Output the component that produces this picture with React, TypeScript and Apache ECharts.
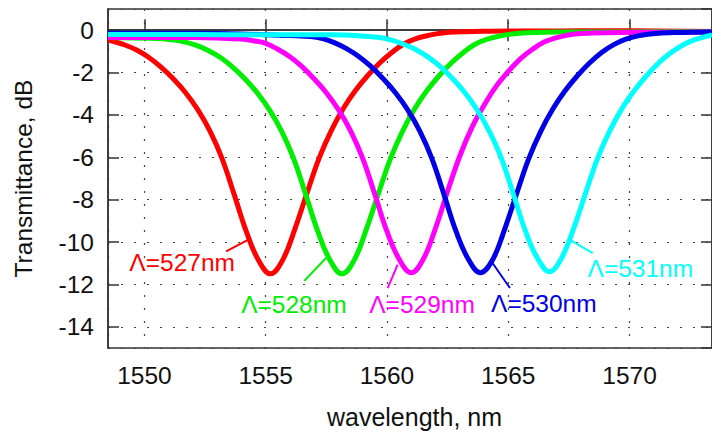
import React, { useEffect, useRef } from "react";
import * as echarts from "echarts";

// Transmittance (dB) vs wavelength (nm) for each grating period Λ
const red527: [number, number][] = [
  [1548.5, -0.45], [1549.2, -0.7], [1549.7, -0.95], [1550.2, -1.3], [1550.7, -1.75],
  [1551.2, -2.3], [1551.7, -2.95], [1552.2, -3.75], [1552.7, -4.75], [1553.2, -6.05],
  [1553.7, -7.75], [1554.2, -9.5], [1554.7, -10.85], [1555.2, -11.5], [1555.7, -10.85],
  [1556.2, -9.4], [1556.7, -7.7], [1557.2, -6.05], [1557.7, -4.75], [1558.2, -3.7],
  [1558.7, -2.85], [1559.2, -2.15], [1559.7, -1.55], [1560.2, -1.05], [1560.7, -0.65],
  [1561.2, -0.4], [1561.7, -0.25], [1562.2, -0.14], [1563.2, -0.07], [1564.2, -0.05],
  [1566, -0.04], [1568, -0.03], [1570, -0.03], [1573.4, -0.06],
];
const green528: [number, number][] = [
  [1548.5, -0.35], [1549.15, -0.36], [1550.15, -0.38], [1551.15, -0.45], [1551.65, -0.55],
  [1552.15, -0.72], [1552.65, -0.97], [1553.15, -1.3], [1553.65, -1.75], [1554.15, -2.3],
  [1554.65, -2.95], [1555.15, -3.75], [1555.65, -4.75], [1556.15, -6.05], [1556.65, -7.75],
  [1557.15, -9.5], [1557.65, -10.85], [1558.15, -11.5], [1558.65, -10.85], [1559.15, -9.4],
  [1559.65, -7.7], [1560.15, -6.05], [1560.65, -4.75], [1561.15, -3.7], [1561.65, -2.85],
  [1562.15, -2.15], [1562.65, -1.55], [1563.15, -1.05], [1563.65, -0.65], [1564.15, -0.42],
  [1564.65, -0.28], [1565.15, -0.18], [1566.15, -0.11], [1567.15, -0.09], [1570, -0.08],
  [1573.4, -0.07],
];
const magenta529: [number, number][] = [
  [1548.5, -0.35], [1552, -0.35], [1553, -0.37], [1554, -0.42], [1554.5, -0.5],
  [1555, -0.62], [1555.5, -0.9], [1556, -1.25], [1556.5, -1.72], [1557, -2.3],
  [1557.5, -2.95], [1558, -3.75], [1558.5, -4.75], [1559, -6.05], [1559.5, -7.75],
  [1560, -9.5], [1560.5, -10.8], [1561, -11.45], [1561.5, -10.8], [1562, -9.35],
  [1562.5, -7.6], [1563, -5.95], [1563.5, -4.6], [1564, -3.55], [1564.5, -2.65],
  [1565, -1.95], [1565.5, -1.35], [1566, -0.9], [1566.5, -0.55], [1567, -0.35],
  [1567.5, -0.22], [1568, -0.16], [1569, -0.12], [1571, -0.1], [1573.4, -0.09],
];
const blue530: [number, number][] = [
  [1548.5, -0.14], [1552, -0.15], [1554, -0.18], [1555.5, -0.24], [1556.85, -0.3],
  [1557.35, -0.4], [1557.85, -0.6], [1558.35, -0.88], [1558.85, -1.25], [1559.35, -1.72],
  [1559.85, -2.3], [1560.35, -2.95], [1560.85, -3.75], [1561.35, -4.75], [1561.85, -6.05],
  [1562.35, -7.75], [1562.85, -9.5], [1563.35, -10.8], [1563.85, -11.45], [1564.35, -10.85],
  [1564.85, -9.4], [1565.35, -7.7], [1565.85, -6.05], [1566.35, -4.75], [1566.85, -3.7],
  [1567.35, -2.85], [1567.85, -2.15], [1568.35, -1.55], [1568.85, -1.05], [1569.35, -0.68],
  [1569.85, -0.42], [1570.35, -0.27], [1570.85, -0.18], [1571.85, -0.11], [1573.4, -0.08],
];
const cyan531: [number, number][] = [
  [1548.5, -0.2], [1552, -0.2], [1555, -0.22], [1557.7, -0.22], [1558.7, -0.25],
  [1559.7, -0.35], [1560.2, -0.47], [1560.7, -0.67], [1561.2, -0.92], [1561.7, -1.27],
  [1562.2, -1.72], [1562.7, -2.28], [1563.2, -2.93], [1563.7, -3.73], [1564.2, -4.73],
  [1564.7, -6.0], [1565.2, -7.7], [1565.7, -9.45], [1566.2, -10.75], [1566.7, -11.4],
  [1567.2, -10.75], [1567.7, -9.35], [1568.2, -7.65], [1568.7, -6.0], [1569.2, -4.72],
  [1569.7, -3.68], [1570.2, -2.85], [1570.7, -2.15], [1571.2, -1.55], [1571.7, -1.07],
  [1572.2, -0.7], [1572.7, -0.45], [1573.4, -0.22],
];

const seriesNames = ["Λ=527nm", "Λ=528nm", "Λ=529nm", "Λ=530nm", "Λ=531nm"];
const seriesData = [red527, green528, magenta529, blue530, cyan531];
const seriesColors = ["#ff0000", "#00ee00", "#ff00ff", "#0000e6", "#00ffff"];

// annotation text anchor (left edge, middle) and leader line ends, in data units
const labelAnchors: [number, number][] = [
  [1549.38, -10.98], [1553.99, -12.96], [1559.27, -12.96], [1564.29, -12.91], [1568.27, -11.23],
];
const leaderLines: [[number, number], [number, number]][] = [
  [[1553.37, -10.44], [1554.33, -9.86]],
  [[1556.59, -11.83], [1557.49, -10.75]],
  [[1560.03, -12.17], [1560.44, -11.07]],
  [[1564.35, -10.99], [1565.07, -12.17]],
  [[1567.58, -9.92], [1568.48, -10.52]],
];

const xMin = 1548.5;
const xMax = 1573.4;
const yMin = -15;
const yMax = 1;

const FONT = "'Liberation Sans', Arial, sans-serif";
const AXIS_COLOR = "#333";
const TEXT_COLOR = "#111";

export default function App() {
  const ref = useRef<HTMLDivElement>(null);
  useEffect(() => {
    if (!ref.current) return;
    const chart = echarts.init(ref.current, undefined, { renderer: "svg" });
    const splitLine = {
      show: true,
      lineStyle: { color: "#444", width: 1.2, type: [2, 11] as any },
    };
    const tick = { show: true, inside: true, length: 11, lineStyle: { color: AXIS_COLOR, width: 1.5 } };
    const axLine = { show: true, lineStyle: { color: AXIS_COLOR, width: 1.5 } };
    chart.setOption({
      animation: false,
      backgroundColor: "#fff",
      textStyle: { fontFamily: FONT },
      grid: {
        left: 108,
        right: 0,
        top: 9,
        bottom: 86,
        show: true,
        borderColor: AXIS_COLOR,
        borderWidth: 1.5,
        containLabel: false,
      },
      xAxis: [
        {
          type: "value",
          min: xMin,
          max: xMax,
          splitNumber: 5,
          minInterval: 5,
          maxInterval: 5,
          position: "bottom",
          axisLine: axLine,
          axisTick: tick,
          splitLine,
          axisLabel: {
            fontSize: 24.5,
            fontFamily: FONT,
            color: TEXT_COLOR,
            margin: 15,
            showMinLabel: false,
            showMaxLabel: false,
            formatter: (v: number) => (Math.abs(v % 5) < 1e-6 ? String(v) : ""),
          },
          name: "wavelength, nm",
          nameLocation: "middle",
          nameGap: 56,
          nameTextStyle: { fontSize: 25, fontFamily: FONT, color: TEXT_COLOR, padding: [0, 0, 0, 9] },
        },
        {
          type: "value",
          min: xMin,
          max: xMax,
          splitNumber: 5,
          minInterval: 5,
          maxInterval: 5,
          position: "top",
          axisLine: axLine,
          axisTick: tick,
          axisLabel: { show: false },
          splitLine: { show: false },
        },
      ],
      yAxis: [
        {
          type: "value",
          min: yMin,
          max: yMax,
          splitNumber: 8,
          minInterval: 2,
          maxInterval: 2,
          position: "left",
          axisLine: axLine,
          axisTick: tick,
          splitLine,
          axisLabel: {
            fontSize: 24.5,
            fontFamily: FONT,
            color: TEXT_COLOR,
            margin: 14,
            showMinLabel: false,
            showMaxLabel: false,
            formatter: (v: number) => (Math.abs(v % 2) < 1e-6 ? String(v) : ""),
          },
          name: "Transmittance, dB",
          nameLocation: "middle",
          nameGap: 72,
          nameTextStyle: { fontSize: 24.5, fontFamily: FONT, color: TEXT_COLOR },
        },
        {
          type: "value",
          min: yMin,
          max: yMax,
          splitNumber: 8,
          minInterval: 2,
          maxInterval: 2,
          position: "right",
          axisLine: axLine,
          axisTick: tick,
          axisLabel: { show: false },
          splitLine: { show: false },
        },
      ],
      series: seriesData.map((data, i) => ({
        type: "line",
        name: seriesNames[i],
        data,
        xAxisIndex: 0,
        yAxisIndex: 0,
        showSymbol: false,
        symbol: "none",
        smooth: 0.4,
        lineStyle: { color: seriesColors[i], width: 5 },
        itemStyle: { color: seriesColors[i] },
        z: 2 + i,
        markLine: {
          silent: true,
          symbol: ["none", "none"],
          label: { show: false },
          lineStyle: { color: seriesColors[i], width: 2, type: "solid" },
          data: [[{ coord: leaderLines[i][0] }, { coord: leaderLines[i][1] }]],
        },
        markPoint: {
          silent: true,
          symbol: "circle",
          symbolSize: 0,
          itemStyle: { color: "transparent" },
          label: {
            show: true,
            position: "right",
            distance: 0,
            formatter: seriesNames[i],
            color: seriesColors[i],
            fontSize: 24.5,
            fontFamily: FONT,
          },
          data: [{ coord: labelAnchors[i], value: seriesNames[i] }],
        },
      })),
    });
    return () => chart.dispose();
  }, []);
  return (
    <div
      ref={ref}
      style={{ position: "fixed", left: 0, top: 0, width: 712, height: 434, background: "#fff" }}
    />
  );
}
